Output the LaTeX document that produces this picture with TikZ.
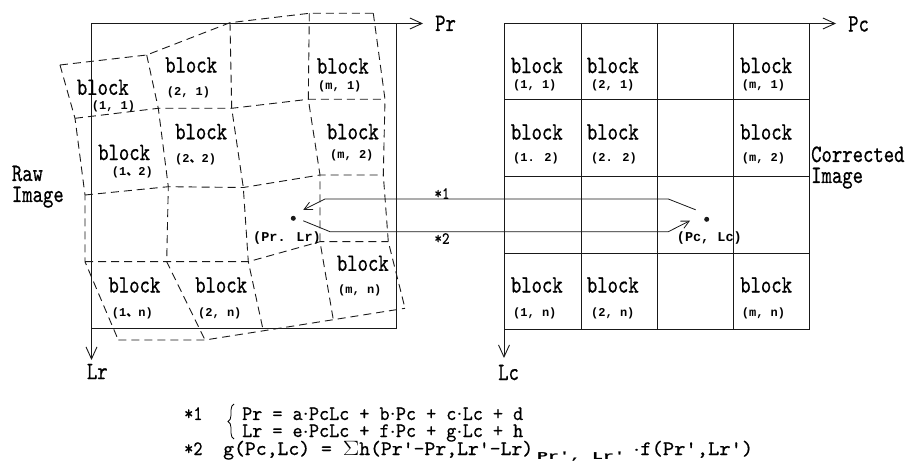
\documentclass[tikz,border=0pt]{standalone}
\usepackage{fontspec}
\usepackage{graphicx}
\usetikzlibrary{arrows.meta,decorations.pathreplacing}
\newfontfamily\blockfont[FakeStretch=0.79,FakeBold=0.6]{lmmono10-regular.otf}
\newfontfamily\fmlfont[FakeStretch=0.85,FakeBold=0.5]{lmmono10-regular.otf}
\newfontfamily\tagfont{Liberation Mono}
\newfontfamily\cjkfont{Noto Sans CJK JP}
\tikzset{
  grid line/.style={draw=black!90, line width=0.9pt},
  warp line/.style={draw=black!90, line width=0.9pt, dash pattern=on 8pt off 5pt},
  axis/.style={draw=black!90, line width=0.9pt, -{Straight Barb[length=12pt,width=11pt]}},
  map arrow/.style={draw=black!90, line width=0.8pt, -{Straight Barb[length=8pt,width=8pt]}},
  word/.style={inner sep=0pt, font=\fontsize{25}{27}\blockfont, anchor=west},
  tag/.style={inner sep=0pt, font=\fontsize{12}{12}\tagfont\bfseries, anchor=west},
  pttag/.style={inner sep=0pt, font=\fontsize{13.5}{13.5}\tagfont\bfseries, anchor=west},
  fml/.style={inner sep=0pt, font=\fontsize{20.5}{20.5}\fmlfont, anchor=base west},
  star/.style={inner sep=0pt, font=\fontsize{17}{17}\fmlfont},
  dot/.style={circle, fill=black!90, inner sep=0pt, minimum size=5pt},
}
\begin{document}
\begin{tikzpicture}[x=1pt, y=-1pt]
\fill[white] (0,0) rectangle (914,473);
\useasboundingbox (0,0) rectangle (914,473);

% ---------- raw image: warped block grid ----------
\coordinate (A0) at (60,65);     \coordinate (A1) at (146.7,55);
\coordinate (A2) at (230,22.7);  \coordinate (A3) at (309.3,13.3);
\coordinate (A4) at (373.3,13.3);
\coordinate (B0) at (75,118.3);  \coordinate (B1) at (158.3,108.3);
\coordinate (B2) at (231.7,108.3); \coordinate (B3) at (308.3,99.3);
\coordinate (B4) at (385,99.3);
\coordinate (C0) at (85,195);    \coordinate (C1) at (168.3,186.7);
\coordinate (C2) at (243.3,187.5); \coordinate (C3) at (320,175);
\coordinate (C4) at (383.3,175);
\coordinate (D0) at (85,261.7);  \coordinate (D1) at (166.7,261.7);
\coordinate (D2) at (248.3,261.7); \coordinate (D3) at (320,241.7);
\coordinate (D4) at (388.3,241.7);
\coordinate (E0) at (118.3,340); \coordinate (E1) at (205,340);
\coordinate (E2) at (263.3,330.8); \coordinate (E3) at (333.3,319.7);
\coordinate (E4) at (405,308.3);

\foreach \r in {A,B,C,D,E}
  \draw[warp line] (\r0) -- (\r1) -- (\r2) -- (\r3) -- (\r4);
\foreach \c in {0,1,2,3,4}
  \draw[warp line] (A\c) -- (B\c) -- (C\c) -- (D\c) -- (E\c);

% raw image frame and axes
\coordinate (LO) at (91.5,23.5);
\coordinate (LPr) at (423,23.5);
\coordinate (LLr) at (91.5,360);
\draw[grid line] (LO) rectangle (396,328.5);
\draw[axis] (LO) -- (LPr);
\draw[axis] (LO) -- (LLr);
\node[word] (prlab) at (435,23.3) {Pr};
\node[word] (lrlab) at (86.7,371.5) {Lr};
\node[word, anchor=base west] (raw1) at (11.7,181) {Raw};
\node[word, anchor=base west] (raw2) at (11.7,202) {Image};

% raw image block labels
\node[word] (L11) at (76.7,87.3) {block};   \node[tag] (L11t) at (91.7,106) {(1, 1)};
\node[word] (L21) at (165,65) {block};      \node[tag] (L21t) at (166.7,92.7) {(2, 1)};
\node[word] (Lm1) at (316.7,66) {block};    \node[tag] (Lm1t) at (318,86) {(m, 1)};
\node[word] (L12) at (98,152.5) {block};    \node[tag] (L12t) at (111.7,172) {(1{\cjkfont 、}2)};
\node[word] (L22) at (175,131.7) {block};   \node[tag] (L22t) at (175,159.3) {(2{\cjkfont 、}2)};
\node[word] (Lm2) at (326.7,131.7) {block}; \node[tag] (Lm2t) at (330,155) {(m, 2)};
\node[word] (L1n) at (108.3,285) {block};   \node[tag] (L1nt) at (111.7,313.3) {(1{\cjkfont 、}n)};
\node[word] (L2n) at (195,285) {block};     \node[tag] (L2nt) at (198,313.3) {(2, n)};
\node[word] (Lmn) at (336.7,263.3) {block}; \node[tag] (Lmnt) at (338,290) {(m, n)};

% ---------- corrected image: regular block grid ----------
\coordinate (RO) at (504,23.5);
\coordinate (RPc) at (836,23.5);
\coordinate (RLc) at (504,358);
\draw[grid line] (RO) rectangle (809,329);
\foreach \x in {581,657,733}
  \draw[grid line] (\x,23.5) -- (\x,329);
\foreach \y in {99,176,253}
  \draw[grid line] (504,\y) -- (809,\y);
\draw[axis] (RO) -- (RPc);
\draw[axis] (RO) -- (RLc);
\node[word] (pclab) at (848,24) {Pc};
\node[word] (lclab) at (498,372.5) {Lc};
\node[word, anchor=base west] (cor1) at (811,162) {Corrected};
\node[word, anchor=base west] (cor2) at (811,183) {Image};

\node[word] (R11) at (510.7,65.5) {block};  \node[tag] (R11t) at (513,85) {(1, 1)};
\node[word] (R21) at (586.7,65.5) {block};  \node[tag] (R21t) at (591,85) {(2, 1)};
\node[word] (Rm1) at (740,65.5) {block};    \node[tag] (Rm1t) at (741.7,85) {(m, 1)};
\node[word] (R12) at (510.7,132) {block}; \node[tag] (R12t) at (513,158) {(1. 2)};
\node[word] (R22) at (586.7,132) {block}; \node[tag] (R22t) at (591,158) {(2. 2)};
\node[word] (Rm2) at (740,132) {block};   \node[tag] (Rm2t) at (741.7,158) {(m, 2)};
\node[word] (R1n) at (510.7,285) {block}; \node[tag] (R1nt) at (513,313) {(1, n)};
\node[word] (R2n) at (586.7,285) {block}; \node[tag] (R2nt) at (591,313) {(2, n)};
\node[word] (Rmn) at (740,285) {block};   \node[tag] (Rmnt) at (741.7,313) {(m, n)};

% ---------- corresponding points and mappings ----------
\node[dot] (pL) at (293.3,218.3) {};
\node[dot] (pR) at (706.7,219.3) {};
\node[pttag] (pLt) at (253,238.3) {(Pr. Lr)};
\node[pttag] (pRt) at (676.7,238.3) {(Pc, Lc)};

\coordinate (m1a) at (668.3,199);
\coordinate (m1b) at (325,199);
\draw[map arrow] ([shift={(-11,-9.5)}]pR.center) -- (m1a) -- (m1b) -- ([shift={(10,-8.5)}]pL.center);
\node[star] (s1) at (442,193.5) {*1};

\coordinate (m2a) at (330,231.7);
\coordinate (m2b) at (668.3,231.7);
\draw[map arrow] ([shift={(10,2.5)}]pL.center) -- (m2a) -- (m2b) -- ([shift={(-16.7,1.4)}]pR.center);
\node[star] (s2) at (442,238.5) {*2};

% ---------- formulas ----------
\node[fml] (k1) at (184,420) {*1};
\node[fml] (k2) at (184,455) {*2};
\coordinate (brT) at (234,404);
\coordinate (brB) at (234,439);
\draw[decorate, decoration={brace, amplitude=6pt}, line width=0.8pt] (brB) -- (brT);
\node[fml] (f1) at (242,420) {\resizebox{281pt}{\height}{Pr = a$\cdot$PcLc + b$\cdot$Pc + c$\cdot$Lc + d}};
\node[fml] (f2) at (242,437) {\resizebox{281pt}{\height}{Lr = e$\cdot$PcLc + f$\cdot$Pc + g$\cdot$Lc + h}};
\node[fml] (f3) at (223,455) {\resizebox{310pt}{\height}{g(Pc,Lc) = $\Sigma$h(Pr'-Pr,Lr'-Lr)}\hspace{4pt}\raisebox{-4pt}{\resizebox{88pt}{\height}{\fontsize{10.5}{10.5}\tagfont\bfseries Pr', Lr'}}\hspace{8pt}\resizebox{120pt}{\height}{$\cdot$f(Pr',Lr')}};
\end{tikzpicture}
\end{document}
